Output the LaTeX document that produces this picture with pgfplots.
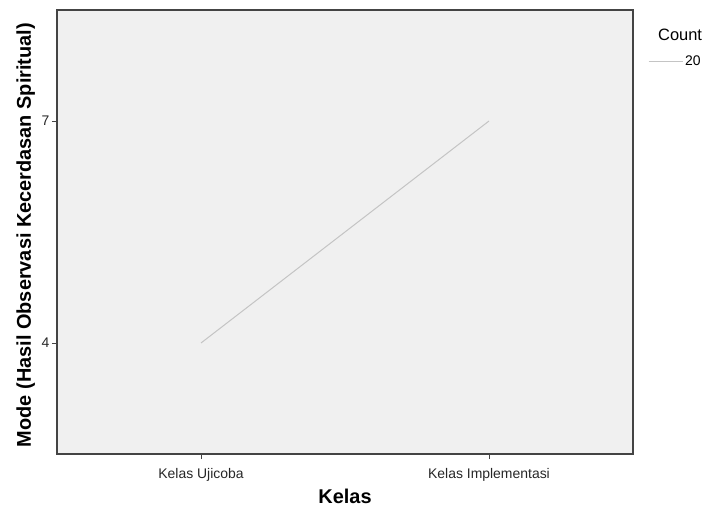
\documentclass[border=0pt]{standalone}
\usepackage{fontspec}
\setmainfont{Liberation Sans}
\usepackage{pgfplots}
\pgfplotsset{compat=1.18}
\definecolor{plotbg}{HTML}{F0F0F0}
\definecolor{frame}{HTML}{444444}
\definecolor{modeline}{HTML}{C4C4C4}
\begin{document}
\begin{tikzpicture}
\begin{axis}[
    scale only axis,
    width=576bp, height=444bp,
    xmin=-0.5, xmax=1.5,
    ymin=2.5, ymax=8.5,
    clip=false,
    xtick={0,1},
    xticklabels={Kelas Ujicoba, Kelas Implementasi},
    ytick={4,7},
    axis background/.style={fill=plotbg},
    axis line style={frame, line width=1.3bp},
    tick style={frame, line width=0.9bp},
    tick align=outside,
    major tick length=5bp,
    xtick pos=bottom, ytick pos=left,
    /pgf/number format/assume math mode=true,
    ticklabel style={font=\fontsize{14}{16}\selectfont, text=black!85},
    xticklabel style={anchor=base, yshift=-19bp},
    yticklabel style={xshift=1bp},
    xlabel={Kelas},
    ylabel={Mode (Hasil Observasi Kecerdasan Spiritual)},
    label style={font=\fontsize{20}{22}\selectfont\bfseries},
    xlabel style={at={([yshift=-49bp]axis description cs:0.5,0)}, anchor=base},
    ylabel style={at={([xshift=-26bp, yshift=-3bp]axis description cs:0,0.5)}, anchor=base},
    legend style={at={(axis description cs:1.026,0.885)}, anchor=west,
        draw=none, fill=none, inner sep=0pt,
        font=\fontsize{14}{16}\selectfont},
    legend image code/.code={\draw[#1] (0bp,0bp) -- (34bp,0bp);},
]
\addplot[modeline, line width=1bp] coordinates {(0,4) (1,7)};
\addlegendentry{20}
\node[anchor=base west, font=\fontsize{16.5}{18}\selectfont, inner sep=0pt]
    at ([xshift=25bp, yshift=-30bp]rel axis cs:1,1) {Count};
\end{axis}
\pgfresetboundingbox
\path (current axis.south west) ++(-57bp,-55bp) rectangle ++(703bp,509bp);
\end{tikzpicture}
\end{document}
